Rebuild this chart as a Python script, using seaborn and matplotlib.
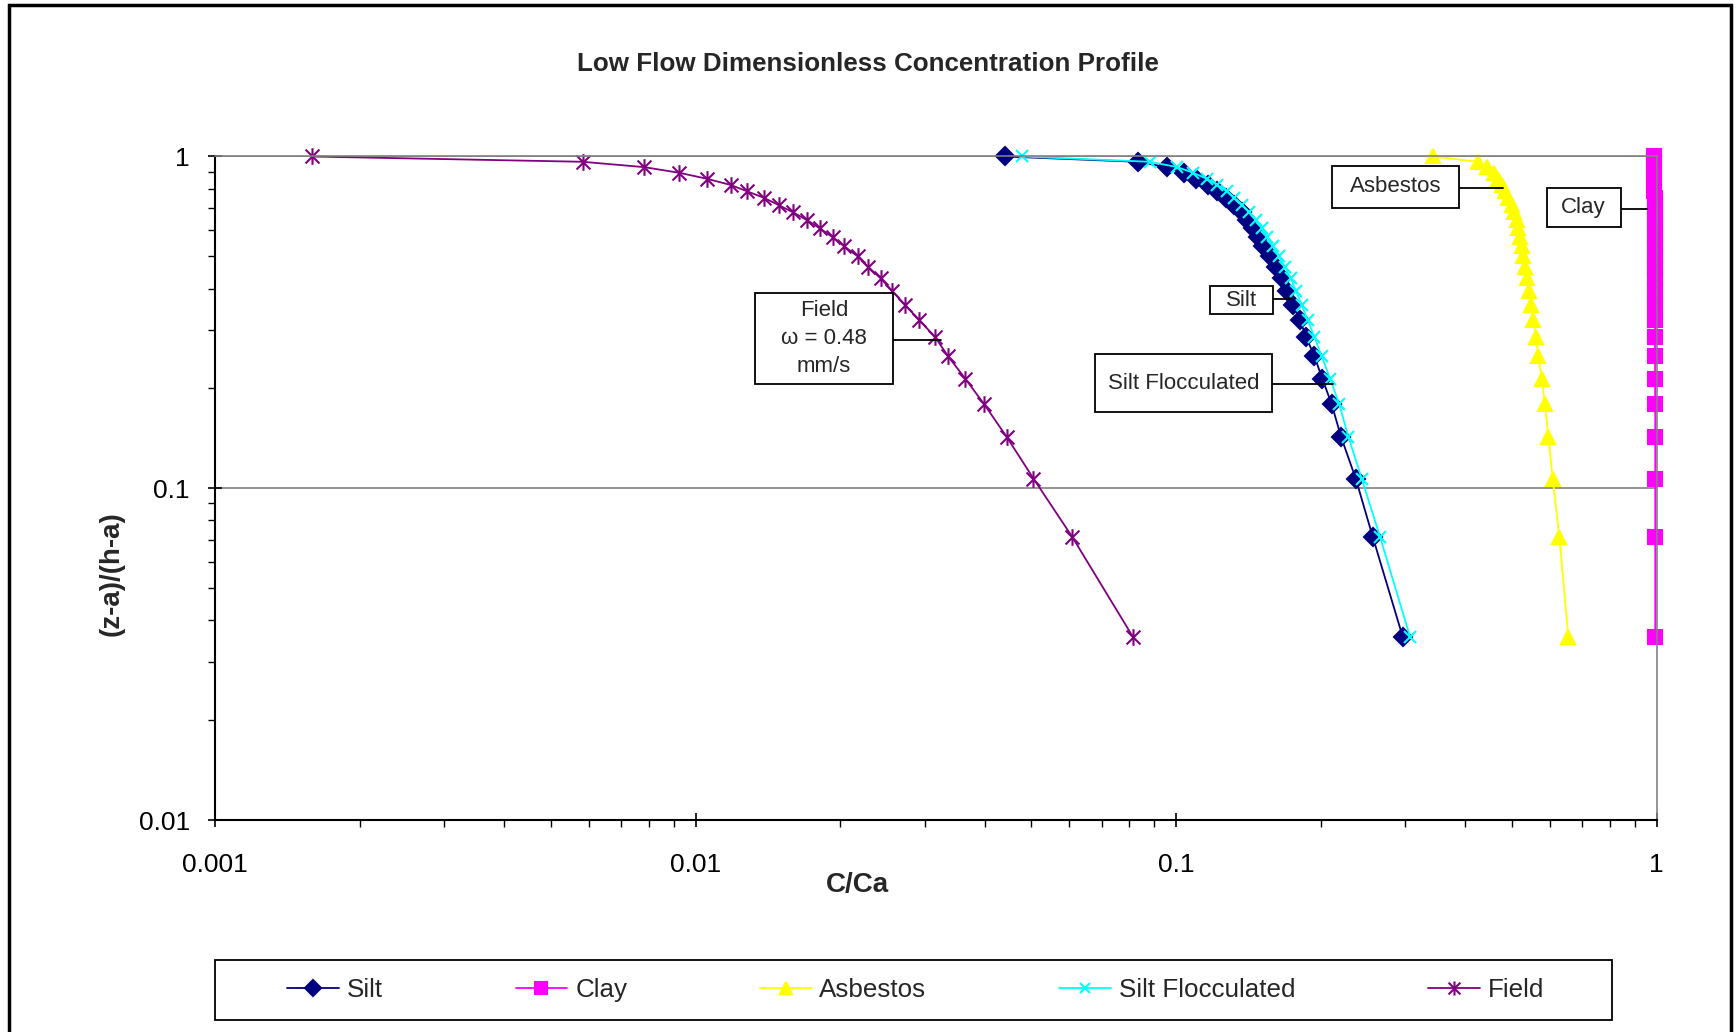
import matplotlib
matplotlib.use('Agg')
import matplotlib.pyplot as plt
from matplotlib.path import Path
from matplotlib.patches import Rectangle
from matplotlib.ticker import FixedLocator, LogLocator, NullFormatter, FuncFormatter
import seaborn as sns
import numpy as np

sns.set_style('white')
plt.rcParams['font.family'] = ['Liberation Sans', 'DejaVu Sans']

# data  (dimensionless height, shared by all series)
z_rel = [1.0, 0.964, 0.929, 0.893, 0.857, 0.821, 0.786, 0.750, 0.714, 0.679,
         0.643, 0.607, 0.571, 0.536, 0.500, 0.464, 0.429, 0.393, 0.357, 0.321,
         0.286, 0.250, 0.214, 0.179, 0.143, 0.107, 0.0714, 0.0357]

silt = [0.0441, 0.0832, 0.0956, 0.1039, 0.1100, 0.1164, 0.1219, 0.1269, 0.1321, 0.1370,
        0.1407, 0.1448, 0.1483, 0.1519, 0.1569, 0.1612, 0.1660, 0.1705, 0.1755, 0.1811,
        0.1865, 0.1941, 0.2016, 0.2109, 0.2205, 0.2366, 0.2567, 0.2963]

clay = [0.990, 0.990, 0.990, 0.990, 0.990, 0.990, 0.990, 0.991, 0.991, 0.991,
        0.991, 0.991, 0.991, 0.992, 0.992, 0.992, 0.992, 0.992, 0.993, 0.993,
        0.993, 0.993, 0.993, 0.994, 0.994, 0.994, 0.994, 0.994]

asbestos = [0.343, 0.4245, 0.4445, 0.459, 0.4687, 0.4762, 0.4838, 0.4916, 0.4995, 0.506,
            0.5117, 0.5159, 0.520, 0.5242, 0.5284, 0.5326, 0.5369, 0.5429, 0.5481, 0.5542,
            0.5613, 0.5677, 0.5768, 0.5861, 0.5955, 0.6081, 0.6277, 0.6555]

silt_floc = [0.0477, 0.0883, 0.1006, 0.1086, 0.1158, 0.1219, 0.1275, 0.1321, 0.1374, 0.1421,
             0.1465, 0.1512, 0.1549, 0.1594, 0.1639, 0.1686, 0.1733, 0.1777, 0.1826, 0.1880,
             0.1941, 0.2010, 0.2092, 0.2187, 0.2284, 0.2435, 0.2658, 0.3069]

field = [0.00159, 0.00582, 0.00781, 0.00926, 0.01055, 0.01183, 0.01279, 0.0139, 0.01489, 0.01595,
         0.01707, 0.01815, 0.0193, 0.0204, 0.02176, 0.0229, 0.0243, 0.02568, 0.0273, 0.02924,
         0.0315, 0.03354, 0.03643, 0.0399, 0.0444, 0.0505, 0.0608, 0.0813]

# excel-like asterisk marker (x plus vertical bar)
star = Path([(-1, -1), (1, 1), (-1, 1), (1, -1), (0, -1.2), (0, 1.2)],
            [Path.MOVETO, Path.LINETO, Path.MOVETO, Path.LINETO, Path.MOVETO, Path.LINETO])

series = [
    ('Silt', silt, '#000080', 'D', 9),
    ('Clay', clay, '#FF00FF', 's', 9.5),
    ('Asbestos', asbestos, '#FFFF00', '^', 10),
    ('Silt Flocculated', silt_floc, '#00FFFF', 'x', 9),
    ('Field', field, '#800080', star, 12),
]

fig = plt.figure(figsize=(17.36, 10.32), dpi=100)
ax = fig.add_axes([215 / 1736, 1 - 820 / 1032, 1441.5 / 1736, 663.5 / 1032])

for name, xs, col, mk, ms in series:
    sns.lineplot(x=xs, y=z_rel, ax=ax, sort=False, estimator=None, label=name,
                 color=col, linewidth=1.3, marker=mk, markersize=ms,
                 markeredgecolor=col, markerfacecolor=col, markeredgewidth=1.5,
                 clip_on=False)

ax.set_xscale('log')
ax.set_yscale('log')
ax.set_xlim(0.001, 1)
ax.set_ylim(0.01, 1)

fmt = FuncFormatter(lambda v, p: f'{v:g}')
ax.xaxis.set_major_locator(FixedLocator([0.001, 0.01, 0.1, 1]))
ax.yaxis.set_major_locator(FixedLocator([0.01, 0.1, 1]))
ax.xaxis.set_major_formatter(fmt)
ax.yaxis.set_major_formatter(fmt)
ax.xaxis.set_minor_locator(LogLocator(base=10, subs=np.arange(2, 10)))
ax.yaxis.set_minor_locator(LogLocator(base=10, subs=np.arange(2, 10)))
ax.xaxis.set_minor_formatter(NullFormatter())
ax.yaxis.set_minor_formatter(NullFormatter())

ax.tick_params(which='major', direction='inout', length=10, width=1.2, labelsize=19,
               colors='black')
ax.tick_params(axis='x', which='major', pad=19)
ax.tick_params(axis='y', which='major', pad=13)
ax.tick_params(which='minor', direction='out', length=5, width=1.0, colors='black')
ax.tick_params(axis='y', which='both', right=False, left=True)
ax.tick_params(axis='x', which='both', top=False, bottom=True)

ax.grid(axis='y', which='major', color='#808080', linewidth=1.2)
ax.grid(axis='x', visible=False)
for s in ['left', 'bottom']:
    ax.spines[s].set_color('black')
    ax.spines[s].set_linewidth(1.5)
for s in ['top', 'right']:
    ax.spines[s].set_color('#808080')
    ax.spines[s].set_linewidth(1.2)
ax.set_axisbelow(True)

ax.set_xlabel('C/Ca', fontsize=20, fontweight='bold')
ax.set_ylabel('(z-a)/(h-a)', fontsize=20, fontweight='bold')
ax.xaxis.set_label_coords(0.446, -0.079)
ax.yaxis.set_label_coords(-0.063, 0.371)
fig.text(0.5, 1 - 64 / 1032, 'Low Flow Dimensionless Concentration Profile',
         ha='center', va='center', fontsize=18.7, fontweight='bold')

# callout labels: text, box (axes fraction x0, x1, y0, y1), leader y, leader end x
callouts = [
    ('Field\n\u03c9 = 0.48\nmm/s', (0.3746, 0.4706, 0.657, 0.7937), 0.7235, 0.5036),
    ('Silt', (0.6903, 0.7340, 0.762, 0.8054), 0.7853, 0.7469),
    ('Silt Flocculated', (0.6103, 0.7333, 0.6152, 0.702), 0.6577, 0.7754),
    ('Asbestos', (0.7747, 0.8630, 0.9224, 0.9857), 0.9531, 0.8935),
    ('Clay', (0.9237, 0.9751, 0.8937, 0.9522), 0.9215, 0.9934),
]
for txt, (x0, x1, y0, y1), ly, lx in callouts:
    ax.plot([x1, lx], [ly, ly], transform=ax.transAxes, color='black', lw=1.3,
            zorder=9, clip_on=False)
    ax.add_patch(Rectangle((x0, y0), x1 - x0, y1 - y0, transform=ax.transAxes,
                           fc='white', ec='black', lw=1.3, zorder=10))
    ax.text((x0 + x1) / 2, (y0 + y1) / 2, txt, transform=ax.transAxes, ha='center',
            va='center', fontsize=16, linespacing=1.45, zorder=11)

# legend with excel-like frame
handles, labels = ax.get_legend_handles_labels()
ax.get_legend().remove()
fig.legend(handles, labels, loc='center', bbox_to_anchor=(915.5 / 1736, 1 - 990 / 1032),
           ncol=5, frameon=False, fontsize=18.7, handlelength=2.0, handletextpad=0.3,
           columnspacing=5.1, borderaxespad=0, markerscale=0.85)
fig.patches.append(Rectangle((215 / 1736, 1 - 1020 / 1032), 1397 / 1736, 60 / 1032,
                             transform=fig.transFigure, fill=False, ec='black', lw=1.3))
# chart area border
fig.patches.append(Rectangle((9 / 1736, -0.05), 1722 / 1736, 1.05 - 5 / 1032,
                             transform=fig.transFigure, fill=False, ec='black', lw=2.5))

fig.savefig('out.png', dpi=100)
